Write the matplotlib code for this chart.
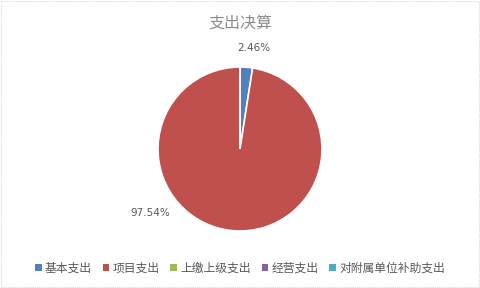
import matplotlib.pyplot as plt
from matplotlib.patches import Patch, Rectangle

plt.rcParams['font.family'] = ['Noto Sans CJK SC', 'DejaVu Sans']

categories = ["基本支出", "项目支出", "上缴上级支出", "经营支出", "对附属单位补助支出"]
values = [2.46, 97.54, 0, 0, 0]
colors = ["#4F81BD", "#C0504D", "#9BBB59", "#8064A2", "#4BACC6"]
title = "支出决算"

fig = plt.figure(figsize=(4.8, 2.88), dpi=100)
fig.patches.append(Rectangle((0.002, 0.003), 0.996, 0.994, transform=fig.transFigure,
                             fill=False, edgecolor="#D9D9D9", linewidth=0.8,
                             linestyle=(0, (1, 1))))

cx, cy, r = 240, 149, 82
ax = fig.add_axes([(cx - r) / 480, (288 - cy - r) / 288, 2 * r / 480, 2 * r / 288])
wedges, _ = ax.pie(values, colors=colors, startangle=90, counterclock=False,
                   wedgeprops=dict(edgecolor="white", linewidth=1.2))
ax.set_xlim(-1, 1)
ax.set_ylim(-1, 1)
ax.set_aspect("equal")
ax.axis("off")

# label positions (Excel best-fit style)
label_pos = [(0.17, 1.23), (-1.1, -0.78)]
for (x, y), v in zip(label_pos, values[:2]):
    ax.text(x, y, f"{v:.2f}%", ha="center", va="center", fontsize=7.5,
            color="#595959", family=["DejaVu Sans"], clip_on=False)

fig.text(0.5, 0.92, title, ha="center", va="center", fontsize=11.5, color="#8C8C8C")

handles = [Patch(facecolor=c, edgecolor="none") for c in colors]
fig.legend(handles, categories, loc="center", bbox_to_anchor=(0.5, 0.069), ncol=5,
           frameon=False, fontsize=8.5, handlelength=0.55, handleheight=0.55,
           handletextpad=0.3, columnspacing=0.9, labelcolor="#595959")

fig.savefig("out.png", dpi=100)
